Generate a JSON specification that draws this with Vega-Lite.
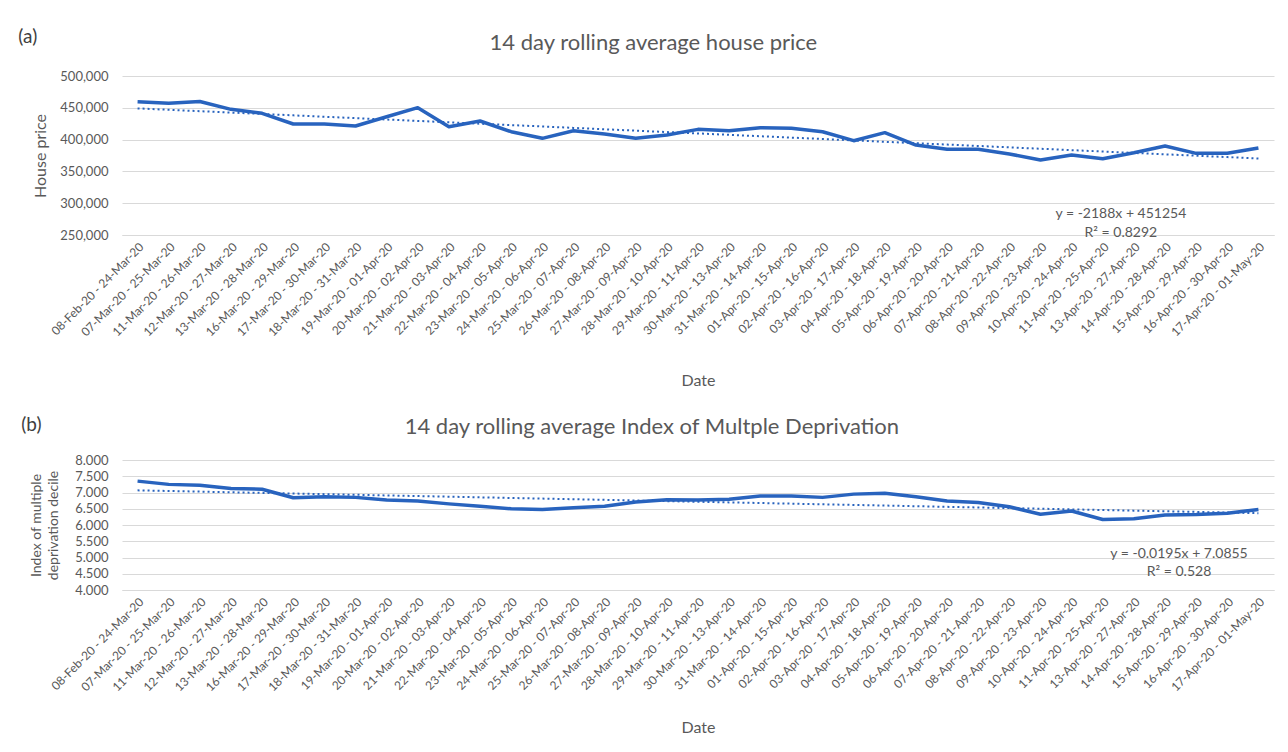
{
  "$schema": "https://vega.github.io/schema/vega-lite/v6.json",
  "background": "white",
  "padding": {"left": 18, "top": 28, "right": 4, "bottom": 4},
  "spacing": 27,
  "datasets": {
    "d": [
      {"date": "08-Feb-20 - 24-Mar-20", "price": 459600, "price_trend": 449066, "imd": 7.35, "imd_trend": 7.0660},
      {"date": "07-Mar-20 - 25-Mar-20", "price": 457000, "price_trend": 446878, "imd": 7.25, "imd_trend": 7.0465},
      {"date": "11-Mar-20 - 26-Mar-20", "price": 460000, "price_trend": 444690, "imd": 7.22, "imd_trend": 7.0270},
      {"date": "12-Mar-20 - 27-Mar-20", "price": 447600, "price_trend": 442502, "imd": 7.12, "imd_trend": 7.0075},
      {"date": "13-Mar-20 - 28-Mar-20", "price": 441300, "price_trend": 440314, "imd": 7.10, "imd_trend": 6.9880},
      {"date": "16-Mar-20 - 29-Mar-20", "price": 424500, "price_trend": 438126, "imd": 6.84, "imd_trend": 6.9685},
      {"date": "17-Mar-20 - 30-Mar-20", "price": 424500, "price_trend": 435938, "imd": 6.87, "imd_trend": 6.9490},
      {"date": "18-Mar-20 - 31-Mar-20", "price": 421400, "price_trend": 433750, "imd": 6.85, "imd_trend": 6.9295},
      {"date": "19-Mar-20 - 01-Apr-20", "price": 436000, "price_trend": 431562, "imd": 6.77, "imd_trend": 6.9100},
      {"date": "20-Mar-20 - 02-Apr-20", "price": 450200, "price_trend": 429374, "imd": 6.74, "imd_trend": 6.8905},
      {"date": "21-Mar-20 - 03-Apr-20", "price": 420300, "price_trend": 427186, "imd": 6.65, "imd_trend": 6.8710},
      {"date": "22-Mar-20 - 04-Apr-20", "price": 429200, "price_trend": 424998, "imd": 6.58, "imd_trend": 6.8515},
      {"date": "23-Mar-20 - 05-Apr-20", "price": 412400, "price_trend": 422810, "imd": 6.50, "imd_trend": 6.8320},
      {"date": "24-Mar-20 - 06-Apr-20", "price": 402000, "price_trend": 420622, "imd": 6.48, "imd_trend": 6.8125},
      {"date": "25-Mar-20 - 07-Apr-20", "price": 414000, "price_trend": 418434, "imd": 6.53, "imd_trend": 6.7930},
      {"date": "26-Mar-20 - 08-Apr-20", "price": 408800, "price_trend": 416246, "imd": 6.58, "imd_trend": 6.7735},
      {"date": "27-Mar-20 - 09-Apr-20", "price": 402000, "price_trend": 414058, "imd": 6.71, "imd_trend": 6.7540},
      {"date": "28-Mar-20 - 10-Apr-20", "price": 407200, "price_trend": 411870, "imd": 6.78, "imd_trend": 6.7345},
      {"date": "29-Mar-20 - 11-Apr-20", "price": 416100, "price_trend": 409682, "imd": 6.77, "imd_trend": 6.7150},
      {"date": "30-Mar-20 - 13-Apr-20", "price": 414000, "price_trend": 407494, "imd": 6.79, "imd_trend": 6.6955},
      {"date": "31-Mar-20 - 14-Apr-20", "price": 418700, "price_trend": 405306, "imd": 6.89, "imd_trend": 6.6760},
      {"date": "01-Apr-20 - 15-Apr-20", "price": 417700, "price_trend": 403118, "imd": 6.89, "imd_trend": 6.6565},
      {"date": "02-Apr-20 - 16-Apr-20", "price": 412400, "price_trend": 400930, "imd": 6.85, "imd_trend": 6.6370},
      {"date": "03-Apr-20 - 17-Apr-20", "price": 398300, "price_trend": 398742, "imd": 6.95, "imd_trend": 6.6175},
      {"date": "04-Apr-20 - 18-Apr-20", "price": 410900, "price_trend": 396554, "imd": 6.98, "imd_trend": 6.5980},
      {"date": "05-Apr-20 - 19-Apr-20", "price": 391500, "price_trend": 394366, "imd": 6.87, "imd_trend": 6.5785},
      {"date": "06-Apr-20 - 20-Apr-20", "price": 384700, "price_trend": 392178, "imd": 6.74, "imd_trend": 6.5590},
      {"date": "07-Apr-20 - 21-Apr-20", "price": 384700, "price_trend": 389990, "imd": 6.69, "imd_trend": 6.5395},
      {"date": "08-Apr-20 - 22-Apr-20", "price": 377400, "price_trend": 387802, "imd": 6.56, "imd_trend": 6.5200},
      {"date": "09-Apr-20 - 23-Apr-20", "price": 368000, "price_trend": 385614, "imd": 6.33, "imd_trend": 6.5005},
      {"date": "10-Apr-20 - 24-Apr-20", "price": 375800, "price_trend": 383426, "imd": 6.43, "imd_trend": 6.4810},
      {"date": "11-Apr-20 - 25-Apr-20", "price": 370000, "price_trend": 381238, "imd": 6.17, "imd_trend": 6.4615},
      {"date": "13-Apr-20 - 27-Apr-20", "price": 379400, "price_trend": 379050, "imd": 6.19, "imd_trend": 6.4420},
      {"date": "14-Apr-20 - 28-Apr-20", "price": 390000, "price_trend": 376862, "imd": 6.31, "imd_trend": 6.4225},
      {"date": "15-Apr-20 - 29-Apr-20", "price": 378400, "price_trend": 374674, "imd": 6.32, "imd_trend": 6.4030},
      {"date": "16-Apr-20 - 30-Apr-20", "price": 378400, "price_trend": 372486, "imd": 6.36, "imd_trend": 6.3835},
      {"date": "17-Apr-20 - 01-May-20", "price": 386800, "price_trend": 370298, "imd": 6.48, "imd_trend": 6.3640}
    ]
  },
  "vconcat": [
    {
      "title": {"text": "(a)", "anchor": "start", "frame": "bounds", "fontSize": 19, "dx": -14.5, "dy": 19, "color": "#404040"},
      "vconcat": [
        {
          "title": {"text": "14 day rolling average house price", "fontSize": 22, "anchor": "middle", "frame": "bounds", "offset": 15},
          "width": 1152,
          "height": 159,
          "encoding": {
            "x": {"field": "date", "type": "nominal", "sort": null,
              "axis": {"title": "Date", "labelAngle": -45, "labelFontSize": 12, "labelPadding": 6, "titleFontSize": 16, "titlePadding": 34, "grid": false}}
          },
          "layer": [
            {
              "data": {"name": "d"},
              "mark": {"type": "line", "color": "#2863be", "strokeWidth": 3.5, "strokeJoin": "round"},
              "encoding": {
                "y": {"field": "price", "type": "quantitative",
                  "scale": {"domain": [250000, 500000], "zero": false, "nice": false},
                  "axis": {"title": "House price", "values": [250000, 300000, 350000, 400000, 450000, 500000], "format": ",.0f", "labelFontSize": 13, "labelPadding": 14, "labelOverlap": false, "titleFontSize": 16, "titlePadding": 11, "domain": false}}
              }
            },
            {
              "data": {"name": "d"},
              "mark": {"type": "line", "color": "#2863be", "strokeWidth": 2, "strokeDash": [2, 3]},
              "encoding": {
                "y": {"field": "price_trend", "type": "quantitative",
                  "scale": {"domain": [250000, 500000], "zero": false, "nice": false},
                  "axis": {"title": "House price", "values": [250000, 300000, 350000, 400000, 450000, 500000], "format": ",.0f", "labelFontSize": 13, "labelPadding": 14, "labelOverlap": false, "titleFontSize": 16, "titlePadding": 11, "domain": false}}
              }
            },
            {
              "data": {"values": [{"label": "y = -2188x + 451254", "pos": 283000}, {"label": "R² = 0.8292", "pos": 253500}]},
              "mark": {"type": "text", "fontSize": 14, "color": "#595959", "align": "center", "baseline": "middle", "dx": -13},
              "encoding": {
                "x": {"datum": "13-Apr-20 - 27-Apr-20", "type": "nominal"},
                "y": {"field": "pos", "type": "quantitative",
                  "scale": {"domain": [250000, 500000], "zero": false, "nice": false},
                  "axis": {"title": "House price", "values": [250000, 300000, 350000, 400000, 450000, 500000], "format": ",.0f", "labelFontSize": 13, "labelPadding": 14, "labelOverlap": false, "titleFontSize": 16, "titlePadding": 11, "domain": false}},
                "text": {"field": "label"}
              }
            }
          ]
        }
      ]
    },
    {
      "title": {"text": "(b)", "anchor": "start", "frame": "bounds", "fontSize": 19, "dx": -8.5, "dy": 23, "color": "#404040"},
      "vconcat": [
        {
          "title": {"text": "14 day rolling average Index of Multple Deprivation", "fontSize": 22, "anchor": "middle", "frame": "bounds", "offset": 15},
          "width": 1152,
          "height": 130,
          "encoding": {
            "x": {"field": "date", "type": "nominal", "sort": null,
              "axis": {"title": "Date", "labelAngle": -45, "labelFontSize": 12, "labelPadding": 6, "titleFontSize": 16, "titlePadding": 26, "grid": false}}
          },
          "layer": [
            {
              "data": {"name": "d"},
              "mark": {"type": "line", "color": "#2863be", "strokeWidth": 3.5, "strokeJoin": "round"},
              "encoding": {
                "y": {"field": "imd", "type": "quantitative",
                  "scale": {"domain": [4, 8], "zero": false, "nice": false},
                  "axis": {"title": ["Index of multiple", "deprivation decile"], "values": [4, 4.5, 5, 5.5, 6, 6.5, 7, 7.5, 8], "format": ".3f", "labelFontSize": 13, "labelPadding": 14, "labelOverlap": false, "titleFontSize": 14, "titleLineHeight": 17, "titlePadding": 14, "domain": false}}
              }
            },
            {
              "data": {"name": "d"},
              "mark": {"type": "line", "color": "#2863be", "strokeWidth": 2, "strokeDash": [2, 3]},
              "encoding": {
                "y": {"field": "imd_trend", "type": "quantitative",
                  "scale": {"domain": [4, 8], "zero": false, "nice": false},
                  "axis": {"title": ["Index of multiple", "deprivation decile"], "values": [4, 4.5, 5, 5.5, 6, 6.5, 7, 7.5, 8], "format": ".3f", "labelFontSize": 13, "labelPadding": 14, "labelOverlap": false, "titleFontSize": 14, "titleLineHeight": 17, "titlePadding": 14, "domain": false}}
              }
            },
            {
              "data": {"values": [{"label": "y = -0.0195x + 7.0855", "pos": 5.11}, {"label": "R² = 0.528", "pos": 4.55}]},
              "mark": {"type": "text", "fontSize": 14, "color": "#595959", "align": "center", "baseline": "middle", "dx": 14},
              "encoding": {
                "x": {"datum": "14-Apr-20 - 28-Apr-20", "type": "nominal"},
                "y": {"field": "pos", "type": "quantitative",
                  "scale": {"domain": [4, 8], "zero": false, "nice": false},
                  "axis": {"title": ["Index of multiple", "deprivation decile"], "values": [4, 4.5, 5, 5.5, 6, 6.5, 7, 7.5, 8], "format": ".3f", "labelFontSize": 13, "labelPadding": 14, "labelOverlap": false, "titleFontSize": 14, "titleLineHeight": 17, "titlePadding": 14, "domain": false}},
                "text": {"field": "label"}
              }
            }
          ]
        }
      ]
    }
  ],
  "config": {
    "font": "Lato",
    "view": {"stroke": null},
    "axis": {"labelColor": "#595959", "titleColor": "#595959", "gridColor": "#d9d9d9", "domainColor": "#d9d9d9", "ticks": false, "labelFont": "Lato", "titleFont": "Lato", "titleFontWeight": "normal"},
    "title": {"color": "#595959", "fontWeight": "normal", "font": "Lato"}
  }
}
